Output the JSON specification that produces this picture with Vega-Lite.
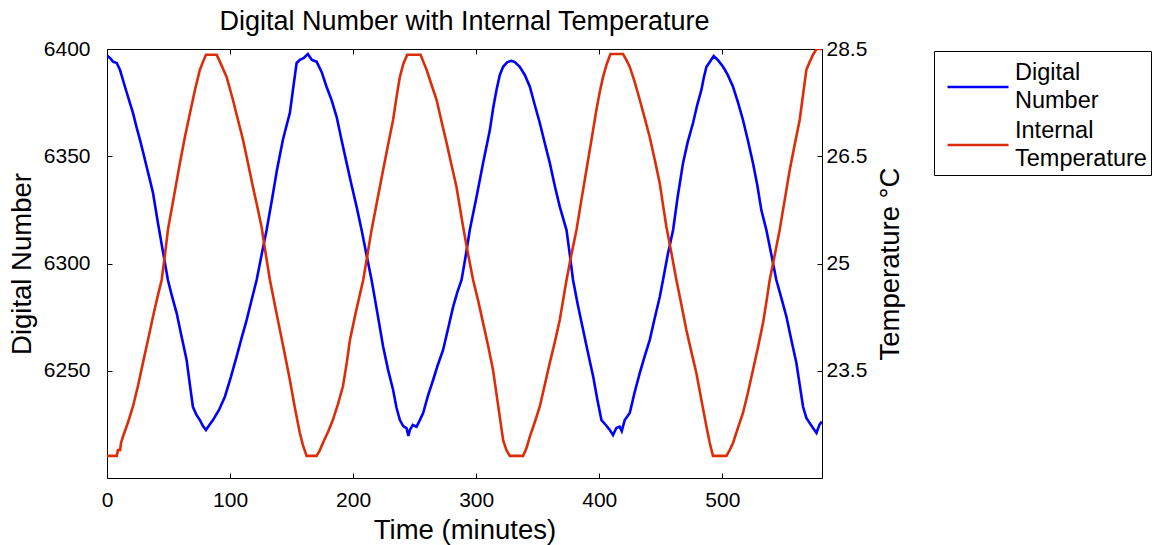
{
  "$schema": "https://vega.github.io/schema/vega-lite/v6.json",
  "width": 715,
  "height": 429,
  "autosize": {"type": "none"},
  "padding": {"left": 107, "top": 49, "right": 339, "bottom": 67},
  "background": "white",
  "config": {
    "view": {"stroke": null},
    "font": "Liberation Sans",
    "axis": {
      "grid": false,
      "domainColor": "black",
      "tickColor": "black",
      "labelColor": "black",
      "titleColor": "black",
      "labelFont": "Liberation Sans",
      "titleFont": "Liberation Sans",
      "labelFontSize": 21,
      "titleFontSize": 27.5,
      "titleFontWeight": "normal",
      "tickSize": -5,
      "domainWidth": 1,
      "tickWidth": 1,
      "labelFlush": false
    }
  },
  "title": {
    "text": "Digital Number with Internal Temperature",
    "fontSize": 27,
    "fontWeight": "normal",
    "font": "Liberation Sans",
    "color": "black",
    "anchor": "middle",
    "frame": "group",
    "baseline": "alphabetic",
    "offset": -19
  },
  "datasets": {
    "dn": [
      {"t": 0, "dn": 6397.0}, {"t": 2.4, "dn": 6395.8}, {"t": 4.9, "dn": 6394.1}, {"t": 7.9, "dn": 6393.5},
      {"t": 10.6, "dn": 6390.2}, {"t": 14.6, "dn": 6382.4}, {"t": 17.9, "dn": 6376.2}, {"t": 21.1, "dn": 6370.2},
      {"t": 24.0, "dn": 6363.6}, {"t": 26.8, "dn": 6357.6}, {"t": 29.5, "dn": 6351.5}, {"t": 32.2, "dn": 6345.1},
      {"t": 34.9, "dn": 6338.9}, {"t": 37.4, "dn": 6332.9}, {"t": 39.4, "dn": 6325.9}, {"t": 41.4, "dn": 6318.9},
      {"t": 45.5, "dn": 6305.4}, {"t": 49.5, "dn": 6292.3}, {"t": 52.8, "dn": 6284.8}, {"t": 56.6, "dn": 6276.9},
      {"t": 60.5, "dn": 6266.2}, {"t": 64.7, "dn": 6255.0}, {"t": 67.4, "dn": 6243.3}, {"t": 69.8, "dn": 6233.2},
      {"t": 72.7, "dn": 6229.4}, {"t": 75.5, "dn": 6227.0}, {"t": 78.0, "dn": 6224.2}, {"t": 80.4, "dn": 6222.4},
      {"t": 83.2, "dn": 6224.7}, {"t": 86.1, "dn": 6227.0}, {"t": 91.0, "dn": 6231.7}, {"t": 95.8, "dn": 6237.9},
      {"t": 100.7, "dn": 6247.1}, {"t": 105.3, "dn": 6256.6}, {"t": 109.4, "dn": 6265.3}, {"t": 113.5, "dn": 6273.7},
      {"t": 117.5, "dn": 6283.0}, {"t": 121.6, "dn": 6292.3}, {"t": 125.6, "dn": 6304.0}, {"t": 129.7, "dn": 6315.6},
      {"t": 134.0, "dn": 6329.6}, {"t": 138.1, "dn": 6343.6}, {"t": 142.9, "dn": 6357.6}, {"t": 145.8, "dn": 6364.1},
      {"t": 148.6, "dn": 6370.2}, {"t": 151.3, "dn": 6381.8}, {"t": 154.1, "dn": 6393.5}, {"t": 156.7, "dn": 6394.9},
      {"t": 160.0, "dn": 6395.8}, {"t": 163.2, "dn": 6397.7}, {"t": 166.5, "dn": 6394.9}, {"t": 170.3, "dn": 6394.1},
      {"t": 174.4, "dn": 6389.3}, {"t": 178.4, "dn": 6382.4}, {"t": 182.5, "dn": 6376.2}, {"t": 186.6, "dn": 6368.4},
      {"t": 190.6, "dn": 6357.6}, {"t": 194.7, "dn": 6346.9}, {"t": 198.7, "dn": 6336.6}, {"t": 202.8, "dn": 6326.5},
      {"t": 206.9, "dn": 6315.6}, {"t": 210.9, "dn": 6304.0}, {"t": 215.0, "dn": 6292.3}, {"t": 219.7, "dn": 6276.9},
      {"t": 224.4, "dn": 6261.2}, {"t": 228.4, "dn": 6250.4}, {"t": 232.5, "dn": 6241.0}, {"t": 235.3, "dn": 6232.6},
      {"t": 238.0, "dn": 6227.0}, {"t": 240.7, "dn": 6224.2}, {"t": 243.4, "dn": 6223.3}, {"t": 244.9, "dn": 6219.6},
      {"t": 246.1, "dn": 6222.4}, {"t": 248.5, "dn": 6224.7}, {"t": 251.5, "dn": 6223.9}, {"t": 254.2, "dn": 6227.0},
      {"t": 256.9, "dn": 6230.3}, {"t": 260.7, "dn": 6238.2}, {"t": 265.0, "dn": 6245.7}, {"t": 268.8, "dn": 6252.7},
      {"t": 273.1, "dn": 6259.7}, {"t": 276.9, "dn": 6269.0}, {"t": 281.3, "dn": 6279.9}, {"t": 284.7, "dn": 6286.7},
      {"t": 288.1, "dn": 6292.3}, {"t": 291.6, "dn": 6304.0}, {"t": 294.8, "dn": 6315.6}, {"t": 300.3, "dn": 6331.1},
      {"t": 305.6, "dn": 6346.9}, {"t": 311.1, "dn": 6362.2}, {"t": 313.8, "dn": 6372.5}, {"t": 316.5, "dn": 6380.9},
      {"t": 319.2, "dn": 6387.9}, {"t": 321.9, "dn": 6391.7}, {"t": 325.3, "dn": 6393.9}, {"t": 328.7, "dn": 6394.5},
      {"t": 331.4, "dn": 6393.9}, {"t": 335.4, "dn": 6391.7}, {"t": 339.5, "dn": 6387.9}, {"t": 343.6, "dn": 6382.4},
      {"t": 347.6, "dn": 6373.9}, {"t": 351.7, "dn": 6365.5}, {"t": 355.7, "dn": 6356.2}, {"t": 359.8, "dn": 6346.9},
      {"t": 363.9, "dn": 6336.1}, {"t": 367.9, "dn": 6326.5}, {"t": 373.4, "dn": 6315.6}, {"t": 376.1, "dn": 6304.0},
      {"t": 378.7, "dn": 6292.3}, {"t": 382.6, "dn": 6280.7}, {"t": 386.9, "dn": 6269.0}, {"t": 390.7, "dn": 6258.7},
      {"t": 395.1, "dn": 6247.2}, {"t": 398.5, "dn": 6236.4}, {"t": 401.8, "dn": 6227.0}, {"t": 405.3, "dn": 6224.7},
      {"t": 408.6, "dn": 6222.4}, {"t": 411.2, "dn": 6220.0}, {"t": 413.9, "dn": 6223.3}, {"t": 416.6, "dn": 6223.9},
      {"t": 418.3, "dn": 6221.9}, {"t": 420.7, "dn": 6227.0}, {"t": 424.8, "dn": 6230.3}, {"t": 428.8, "dn": 6240.1},
      {"t": 432.9, "dn": 6248.9}, {"t": 437.0, "dn": 6256.9}, {"t": 441.0, "dn": 6264.3}, {"t": 445.1, "dn": 6274.6},
      {"t": 449.2, "dn": 6284.5}, {"t": 451.8, "dn": 6292.3}, {"t": 455.6, "dn": 6304.0}, {"t": 460.0, "dn": 6315.6},
      {"t": 463.7, "dn": 6331.0}, {"t": 468.1, "dn": 6346.9}, {"t": 471.9, "dn": 6356.7}, {"t": 476.2, "dn": 6365.5},
      {"t": 479.6, "dn": 6373.9}, {"t": 483.0, "dn": 6380.9}, {"t": 484.9, "dn": 6386.5}, {"t": 487.1, "dn": 6391.7},
      {"t": 489.8, "dn": 6393.9}, {"t": 493.0, "dn": 6396.7}, {"t": 496.3, "dn": 6394.9}, {"t": 500.6, "dn": 6391.7},
      {"t": 504.4, "dn": 6387.9}, {"t": 508.7, "dn": 6382.4}, {"t": 512.6, "dn": 6375.3}, {"t": 516.8, "dn": 6366.9},
      {"t": 520.7, "dn": 6357.6}, {"t": 524.9, "dn": 6346.9}, {"t": 528.4, "dn": 6336.6}, {"t": 531.7, "dn": 6324.9},
      {"t": 535.8, "dn": 6315.6}, {"t": 539.9, "dn": 6304.0}, {"t": 543.9, "dn": 6292.3}, {"t": 548.0, "dn": 6283.9},
      {"t": 552.1, "dn": 6275.2}, {"t": 556.1, "dn": 6264.3}, {"t": 560.2, "dn": 6253.6}, {"t": 562.9, "dn": 6243.4},
      {"t": 565.6, "dn": 6233.2}, {"t": 568.3, "dn": 6228.0}, {"t": 571.0, "dn": 6225.6}, {"t": 573.7, "dn": 6223.3},
      {"t": 576.5, "dn": 6221.0}, {"t": 578.8, "dn": 6224.7}, {"t": 580.8, "dn": 6226.3}
    ],
    "temp": [
      {"t": 0, "temp": 22.31}, {"t": 7.9, "temp": 22.31}, {"t": 8.9, "temp": 22.39}, {"t": 10.6, "temp": 22.39},
      {"t": 11.4, "temp": 22.49}, {"t": 13.0, "temp": 22.58}, {"t": 17.1, "temp": 22.78}, {"t": 21.1, "temp": 23.00},
      {"t": 25.2, "temp": 23.29}, {"t": 29.2, "temp": 23.61}, {"t": 33.3, "temp": 23.93}, {"t": 37.4, "temp": 24.26},
      {"t": 41.0, "temp": 24.53}, {"t": 44.4, "temp": 24.77}, {"t": 47.1, "temp": 25.12}, {"t": 49.5, "temp": 25.47},
      {"t": 54.4, "temp": 25.94}, {"t": 59.3, "temp": 26.41}, {"t": 63.3, "temp": 26.77}, {"t": 67.4, "temp": 27.10},
      {"t": 71.5, "temp": 27.43}, {"t": 75.5, "temp": 27.71}, {"t": 78.0, "temp": 27.82}, {"t": 80.4, "temp": 27.92},
      {"t": 89.1, "temp": 27.92}, {"t": 91.8, "temp": 27.82}, {"t": 97.2, "temp": 27.61}, {"t": 102.3, "temp": 27.29},
      {"t": 106.4, "temp": 27.01}, {"t": 110.5, "temp": 26.73}, {"t": 114.5, "temp": 26.41}, {"t": 118.6, "temp": 26.07},
      {"t": 122.2, "temp": 25.79}, {"t": 125.6, "temp": 25.51}, {"t": 129.1, "temp": 25.12}, {"t": 132.4, "temp": 24.77},
      {"t": 136.4, "temp": 24.42}, {"t": 140.5, "temp": 24.07}, {"t": 144.6, "temp": 23.72}, {"t": 148.6, "temp": 23.37},
      {"t": 152.7, "temp": 22.98}, {"t": 156.7, "temp": 22.63}, {"t": 159.2, "temp": 22.46}, {"t": 162.2, "temp": 22.31},
      {"t": 170.3, "temp": 22.31}, {"t": 173.0, "temp": 22.39}, {"t": 175.4, "temp": 22.49}, {"t": 179.5, "temp": 22.64},
      {"t": 183.5, "temp": 22.81}, {"t": 187.6, "temp": 23.03}, {"t": 191.7, "temp": 23.28}, {"t": 194.9, "temp": 23.62},
      {"t": 197.4, "temp": 23.93}, {"t": 202.2, "temp": 24.32}, {"t": 208.2, "temp": 24.77}, {"t": 211.6, "temp": 25.12},
      {"t": 215.0, "temp": 25.47}, {"t": 219.7, "temp": 25.89}, {"t": 224.4, "temp": 26.31}, {"t": 228.4, "temp": 26.66},
      {"t": 232.5, "temp": 27.01}, {"t": 235.3, "temp": 27.33}, {"t": 238.0, "temp": 27.61}, {"t": 240.8, "temp": 27.79},
      {"t": 243.9, "temp": 27.92}, {"t": 254.8, "temp": 27.92}, {"t": 257.1, "temp": 27.82}, {"t": 259.7, "temp": 27.71},
      {"t": 263.7, "temp": 27.50}, {"t": 267.8, "temp": 27.29}, {"t": 271.8, "temp": 26.99}, {"t": 275.9, "temp": 26.69},
      {"t": 279.9, "temp": 26.38}, {"t": 284.0, "temp": 26.07}, {"t": 286.7, "temp": 25.79}, {"t": 289.4, "temp": 25.51},
      {"t": 293.2, "temp": 25.15}, {"t": 297.5, "temp": 24.77}, {"t": 301.6, "temp": 24.48}, {"t": 305.6, "temp": 24.17},
      {"t": 309.7, "temp": 23.85}, {"t": 313.7, "temp": 23.51}, {"t": 317.8, "temp": 23.02}, {"t": 321.9, "temp": 22.53},
      {"t": 324.6, "temp": 22.39}, {"t": 327.3, "temp": 22.31}, {"t": 338.1, "temp": 22.31}, {"t": 340.9, "temp": 22.42},
      {"t": 343.6, "temp": 22.58}, {"t": 347.6, "temp": 22.78}, {"t": 351.7, "temp": 23.00}, {"t": 355.7, "temp": 23.30},
      {"t": 359.8, "temp": 23.61}, {"t": 363.9, "temp": 23.90}, {"t": 367.9, "temp": 24.21}, {"t": 373.4, "temp": 24.77},
      {"t": 377.3, "temp": 25.12}, {"t": 381.5, "temp": 25.47}, {"t": 385.5, "temp": 25.89}, {"t": 389.6, "temp": 26.31},
      {"t": 393.7, "temp": 26.73}, {"t": 397.7, "temp": 27.15}, {"t": 400.4, "temp": 27.40}, {"t": 403.1, "temp": 27.61},
      {"t": 406.1, "temp": 27.79}, {"t": 409.1, "temp": 27.93}, {"t": 419.3, "temp": 27.93}, {"t": 421.9, "temp": 27.85},
      {"t": 424.8, "temp": 27.75}, {"t": 428.8, "temp": 27.54}, {"t": 432.9, "temp": 27.29}, {"t": 437.0, "temp": 27.03},
      {"t": 441.0, "temp": 26.77}, {"t": 445.1, "temp": 26.45}, {"t": 449.2, "temp": 26.12}, {"t": 451.8, "temp": 25.82},
      {"t": 454.6, "temp": 25.51}, {"t": 458.6, "temp": 25.15}, {"t": 462.7, "temp": 24.77}, {"t": 466.8, "temp": 24.42},
      {"t": 470.8, "temp": 24.07}, {"t": 474.9, "temp": 23.76}, {"t": 478.9, "temp": 23.47}, {"t": 483.0, "temp": 23.09},
      {"t": 487.1, "temp": 22.72}, {"t": 489.8, "temp": 22.49}, {"t": 492.4, "temp": 22.31}, {"t": 503.3, "temp": 22.31},
      {"t": 506.0, "temp": 22.39}, {"t": 508.7, "temp": 22.49}, {"t": 512.7, "temp": 22.70}, {"t": 516.8, "temp": 22.91},
      {"t": 520.9, "temp": 23.20}, {"t": 524.9, "temp": 23.51}, {"t": 529.0, "temp": 23.83}, {"t": 533.1, "temp": 24.17},
      {"t": 535.8, "temp": 24.46}, {"t": 538.5, "temp": 24.77}, {"t": 542.6, "temp": 25.12}, {"t": 546.6, "temp": 25.47},
      {"t": 550.7, "temp": 25.89}, {"t": 554.8, "temp": 26.31}, {"t": 558.8, "temp": 26.66}, {"t": 562.9, "temp": 27.01},
      {"t": 565.6, "temp": 27.36}, {"t": 568.3, "temp": 27.71}, {"t": 571.0, "temp": 27.82}, {"t": 573.7, "temp": 27.92},
      {"t": 576.5, "temp": 28.00}, {"t": 580.8, "temp": 28.00}
    ]
  },
  "layer": [
    {
      "data": {"name": "dn"},
      "mark": {"type": "line", "strokeWidth": 2.6, "clip": true},
      "encoding": {
        "x": {
          "field": "t", "type": "quantitative",
          "scale": {"domain": [0, 581], "nice": false, "zero": false},
          "axis": {"orient": "bottom", "values": [0, 100, 200, 300, 400, 500], "format": "d", "labelPadding": 16, "labelFlush": false, "title": "Time (minutes)", "titlePadding": 6}
        },
        "y": {
          "field": "dn", "type": "quantitative",
          "scale": {"domain": [6200, 6400], "nice": false, "zero": false},
          "axis": {"orient": "left", "values": [6250, 6300, 6350, 6400], "format": "d", "labelPadding": 22, "title": "Digital Number", "titlePadding": 7}
        },
        "color": {
          "datum": "Digital Number", "type": "nominal",
          "scale": {"domain": ["Digital Number", "Internal Temperature"], "range": ["#0000ff", "#dc2d0a"]},
          "legend": {
            "orient": "none", "legendX": 827, "legendY": 2, "title": null,
            "strokeColor": "black", "fillColor": "white", "padding": 4, "cornerRadius": 0,
            "symbolType": "stroke", "symbolSize": 3721, "symbolStrokeWidth": 2.6, "symbolOffset": 8,
            "labelFont": "Liberation Sans", "labelFontSize": 23.5, "labelColor": "black", "labelOffset": 5, "labelLimit": 300,
            "labelExpr": "datum.label == 'Digital Number' ? ['Digital', 'Number'] : ['Internal', 'Temperature']",
            "rowPadding": 0,
            "encode": {"labels": {"update": {"lineHeight": {"value": 28}, "dy": {"value": -14}}}}
          }
        }
      }
    },
    {
      "data": {"name": "temp"},
      "mark": {"type": "line", "strokeWidth": 2.6, "clip": true},
      "encoding": {
        "x": {
          "field": "t", "type": "quantitative",
          "axis": {"orient": "top", "values": [0, 100, 200, 300, 400, 500], "labels": false, "title": null}
        },
        "y": {
          "field": "temp", "type": "quantitative",
          "scale": {"domain": [22, 28], "nice": false, "zero": false},
          "axis": {"orient": "right", "values": [23.5, 25, 26.5, 28], "format": ".1~f", "labelExpr": "datum.value == 28 ? '28.5' : datum.label", "labelPadding": 9, "title": "Temperature °C", "titleAngle": -90, "titleBaseline": "top", "titlePadding": 10}
        },
        "color": {"datum": "Internal Temperature", "type": "nominal"}
      }
    }
  ],
  "resolve": {"scale": {"y": "independent"}, "axis": {"x": "independent", "y": "independent"}}
}
